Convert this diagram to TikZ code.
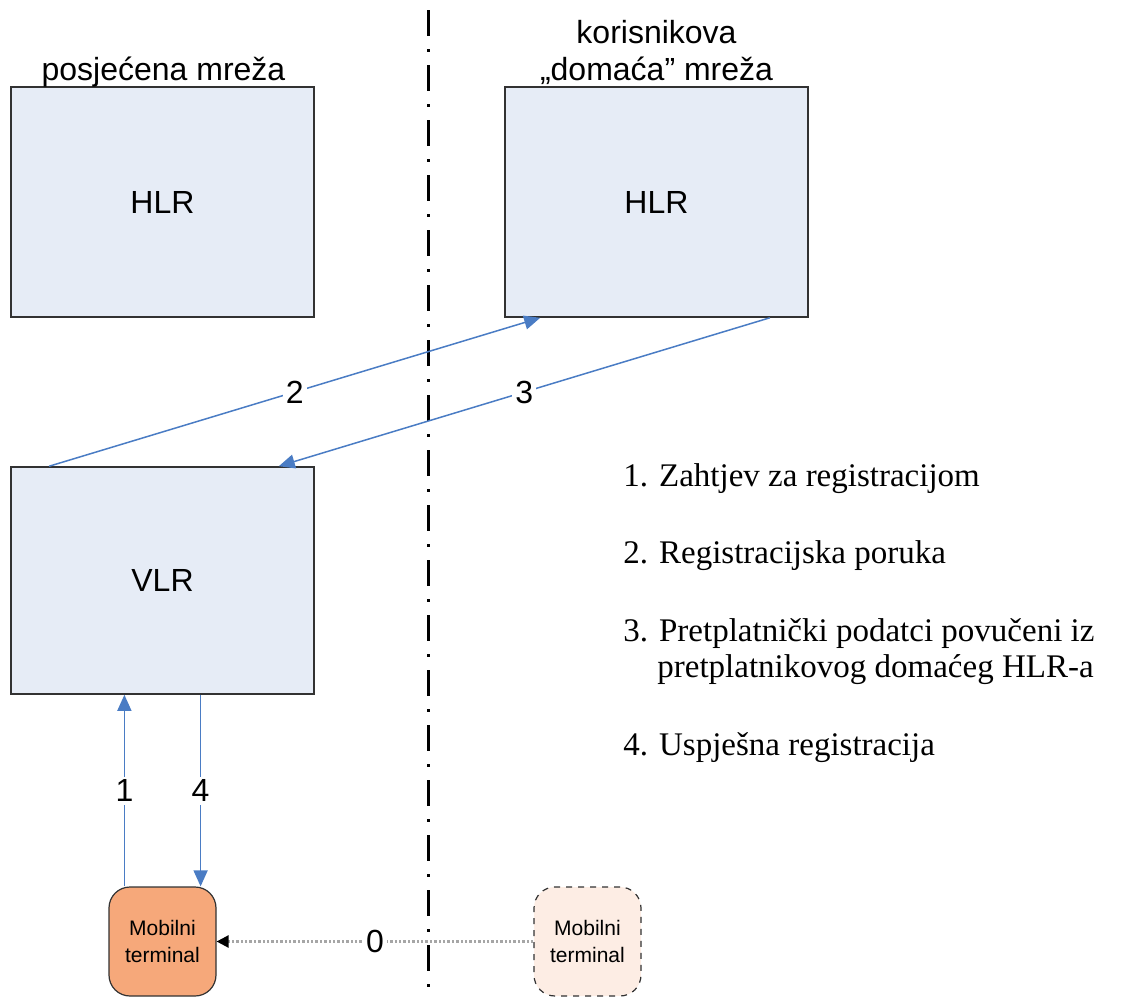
\documentclass[tikz,border=0pt]{standalone}
\usepackage{fontspec}
\setmainfont{Liberation Serif}
\newfontfamily\arialf{Liberation Sans}
\usetikzlibrary{arrows.meta}
\definecolor{boxfill}{RGB}{230,236,246}
\definecolor{boxline}{RGB}{50,50,50}
\definecolor{arrblue}{RGB}{74,124,196}
\definecolor{mtfill}{RGB}{246,168,122}
\definecolor{ghostfill}{RGB}{253,237,228}
\tikzset{
  netbox/.style={draw=boxline, line width=0.8pt, fill=boxfill, minimum width=151.5pt, minimum height=115pt, inner sep=0pt, font=\arialf\fontsize{16}{19}\selectfont},
  term/.style={rounded corners=10.5pt, line width=0.6pt, minimum width=53.5pt, minimum height=54.5pt, inner sep=0pt, align=center, font=\arialf\fontsize{10.5}{13.5}\selectfont},
  msg/.style={draw=arrblue, line width=0.75pt, -{Triangle[length=8pt,width=7pt]}},
  lbl/.style={fill=white, inner sep=1.5pt, font=\arialf\fontsize{16}{19}\selectfont},
  head/.style={anchor=base, font=\arialf\fontsize{16}{19}\selectfont},
  legend/.style={anchor=base west, inner sep=0pt, font=\fontsize{16.5}{19}\selectfont},
  divider/.style={line width=1.5pt, dash pattern=on 13pt off 6.5pt on 1.5pt off 6.5pt}
}
\begin{document}
\begin{tikzpicture}[x=0.5pt, y=-0.5pt]
\useasboundingbox (0,0) rectangle (1121,997);
% divider
\coordinate (dtop) at (428,10);
\coordinate (dbot) at (428,997);
\draw[divider] (dtop) -- (dbot);
% boxes
\node[netbox] (hlrL) at (162.5,202) {HLR};
\node[netbox] (hlrR) at (656.5,202) {HLR};
\node[netbox, minimum height=113.5pt] (vlr) at (162.5,580.5) {VLR};
% headings
\node[head] (hL) at (163.5,80) {posjećena mreža};
\node[head] (hR1) at (656.5,43) {korisnikova};
\node[head] (hR2) at (656.5,80) {„domaća” mreža};
% terminals
\node[term, draw=boxline, fill=mtfill] (mt) at (162.5,941.5) {Mobilni\\terminal};
\node[term, draw=boxline, dashed, fill=ghostfill] (mt2) at (587.5,941.5) {Mobilni\\terminal};
% messages 2 and 3
\coordinate (a2s) at ([xshift=19.5pt]vlr.north west);
\coordinate (a2e) at ([xshift=18pt]hlrR.south west);
\coordinate (a3s) at ([xshift=-19.5pt]hlrR.south east);
\coordinate (a3e) at ([xshift=-18pt]vlr.north east);
\draw[msg] (a2s) -- node[lbl] (l2) {2} (a2e);
\draw[msg] (a3s) -- node[lbl] (l3) {3} (a3e);
% messages 1 and 4
\coordinate (a1s) at ([xshift=8pt]mt.north west);
\coordinate (a4e) at ([xshift=-8pt]mt.north east);
\draw[msg] (a1s) -- node[lbl] (l1) {1} (a1s |- vlr.south);
\draw[msg] (a4e |- vlr.south) -- node[lbl] (l4) {4} (a4e);
% message 0
\draw[draw=gray!70, line width=1.2pt, densely dotted, -{Triangle[length=6pt,width=6pt,black]}] (mt2.west) -- node[lbl, text=black] (l0) {0} (mt.east);
% legend
\node[legend] (t1) at (623,486) {1. Zahtjev za registracijom};
\node[legend] (t2) at (623,563) {2. Registracijska poruka};
\node[legend] (t3) at (623,641) {3. Pretplatnički podatci povučeni iz};
\node[legend] (t3b) at (657,677) {pretplatnikovog domaćeg HLR-a};
\node[legend] (t4) at (623,755) {4. Uspješna registracija};
\end{tikzpicture}
\end{document}
